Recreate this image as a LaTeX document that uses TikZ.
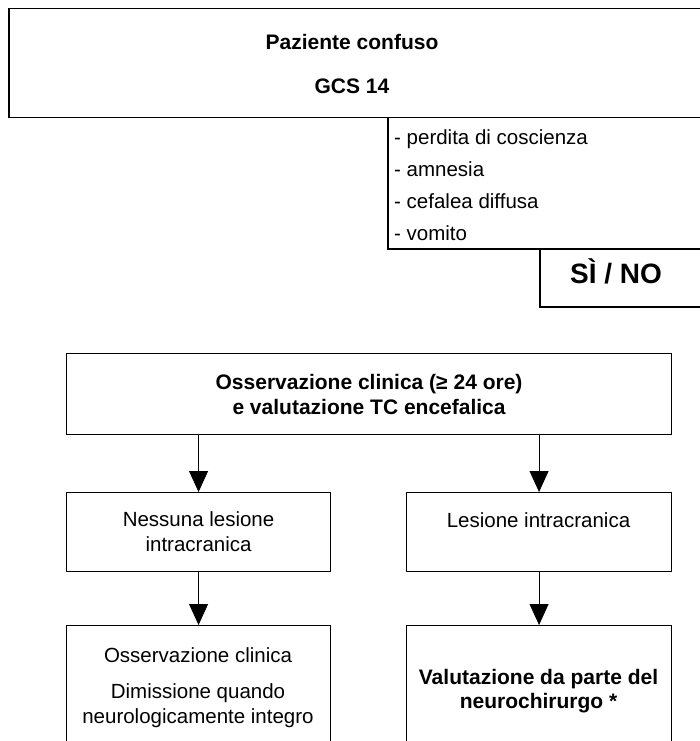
\documentclass[tikz,border=0pt]{standalone}
\usepackage{fontspec}
\setmainfont{Liberation Sans}
\usetikzlibrary{arrows.meta}
\tikzset{
  >={Triangle[width=19pt,length=21pt]},
  box/.style={draw, anchor=north west, inner sep=0pt},
  topbox/.style={box, line width=1.5pt},
  lowbox/.style={box, line width=1.1pt},
  txt/.style={inner sep=0pt, text height=18pt, text depth=4pt,
    font=\fontsize{20.5}{25}\selectfont},
  bftxt/.style={txt, font=\fontsize{21}{25}\selectfont\bfseries},
  mtxt/.style={inner sep=0pt, align=center, font=\fontsize{20.5}{25}\selectfont},
  arr/.style={->, line width=0.8pt},
}

\begin{document}
\begin{tikzpicture}[x=1pt, y=-1pt]
  \useasboundingbox (0,0) rectangle (700,741);
  % upper part
  \node[topbox, minimum width=720pt, minimum height=109pt] (paz) at (8,8) {};
  \node[bftxt] (pazt) at (352,43) {Paziente confuso};
  \node[bftxt] (gcs) at (352,87) {GCS 14};
  \node[topbox, minimum width=330pt, minimum height=131pt] (sint) at (387,117) {};
  \foreach \t [count=\i] in {perdita di coscienza, amnesia, cefalea diffusa, vomito}
    \node[txt, anchor=west] (s\i) at (394,105+32*\i) {- \t};
  \node[topbox, minimum width=180pt, minimum height=58pt] (sino) at (539,248) {};
  \node[bftxt, font=\fontsize{28}{30}\selectfont\bfseries] (sinot) at (616,276) {SÌ / NO};
  % lower part
  \node[lowbox, minimum width=605pt, minimum height=81pt] (oss) at (66,353) {};
  \node[mtxt, font=\fontsize{21}{25}\selectfont\bfseries] (osst) at (oss.center)
    {Osservazione clinica (≥ 24 ore)\\e valutazione TC encefalica};
  \node[lowbox, minimum width=264pt, minimum height=79pt] (nes) at (66,492) {};
  \node[mtxt] (nest) at (nes.center) {Nessuna lesione\\intracranica};
  \node[lowbox, minimum width=265pt, minimum height=79pt] (les) at (406,492) {};
  \node[txt] (lest) at (538.5,520) {Lesione intracranica};
  \node[lowbox, minimum width=264pt, minimum height=140pt] (dim) at (66,625) {};
  \node[txt] (dim1) at (198,655) {Osservazione clinica};
  \node[txt] (dim2) at (198,691) {Dimissione quando};
  \node[txt] (dim3) at (198,716) {neurologicamente integro};
  \node[lowbox, minimum width=265pt, minimum height=140pt] (neu) at (406,625) {};
  \node[bftxt] (neu1) at (538.5,677) {Valutazione da parte del};
  \node[bftxt] (neu2) at (538.5,701) {neurochirurgo *};
  % arrows
  \draw[arr] (oss.south -| nes.north) -- (nes.north);
  \draw[arr] (oss.south -| les.north) -- (les.north);
  \draw[arr] (nes.south) -- (dim.north);
  \draw[arr] (les.south) -- (neu.north);
\end{tikzpicture}
\end{document}
